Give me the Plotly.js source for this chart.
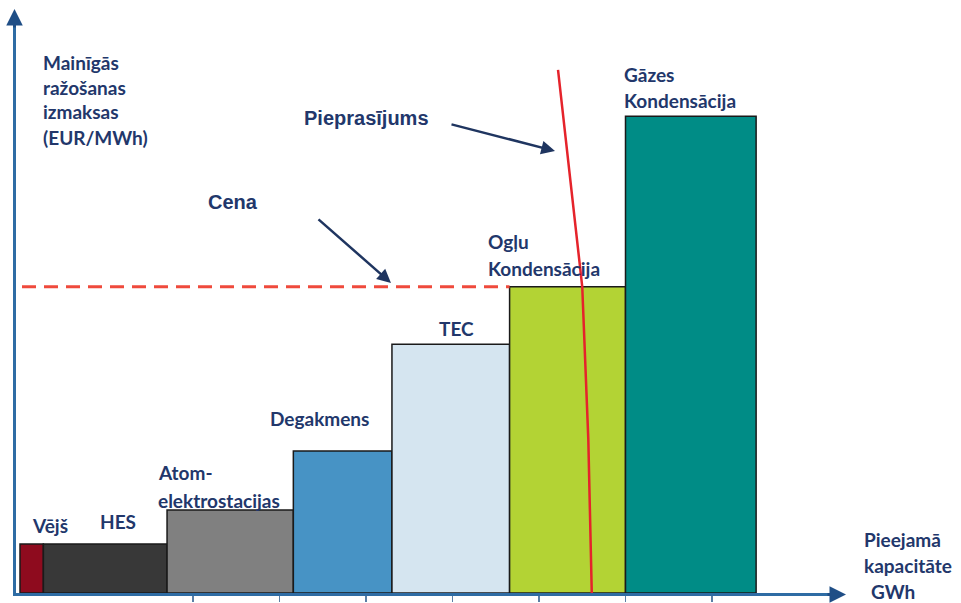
<!DOCTYPE html>
<html>
<head>
<meta charset="utf-8">
<script src="https://cdn.plot.ly/plotly-3.0.1.min.js"></script>
<style>html,body{margin:0;padding:0;background:#fff;}#chart{width:961px;height:603px;}</style>
</head>
<body>
<div id="chart"></div>
<script>
// ---- data ----
const categories = ['Vējš', 'HES', 'Atom-elektrostacijas', 'Degakmens', 'TEC', 'Ogļu Kondensācija', 'Gāzes Kondensācija'];
const capacity = [0.27, 1.43, 1.46, 1.14, 1.36, 1.34, 1.51];      // GWh (bar widths)
const cost = [8.45, 8.45, 14.3, 24.5, 42.9, 52.8, 82.2];           // EUR/MWh (bar heights)
const price = 52.8;                                                 // Cena
const demandCap = [6.22, 6.36, 6.50, 6.57, 6.61];                   // Pieprasījums curve
const demandCost = [90.2, 71.5, 52.8, 26.5, 0];
const tickCaps = [2, 3, 4, 5, 6, 7, 8];
const labelLines = [['Vējš'], ['HES'], ['Atom-', 'elektrostacijas'], ['Degakmens'], ['TEC'], ['Ogļu', 'Kondensācija'], ['Gāzes', 'Kondensācija']];
const yTitleLines = ['Mainīgās', 'ražošanas', 'izmaksas', '(EUR/MWh)'];
const xTitleLines = ['Pieejamā', 'kapacitāte', 'GWh'];
const demandLabel = 'Pieprasījums';
const priceLabel = 'Cena';

// ---- styles ----
const barColors = ['#8E0B1E', '#383838', '#808080', '#4793C5', '#D5E5F0', '#B3D334', '#008C86'];
const navy = '#22376B';
const axisBlue = '#2E6CA4';
const labelFont = {family: 'Lato, "DejaVu Sans", sans-serif', size: 19, color: navy};
const arialFont = {family: '"Liberation Sans", Arial, sans-serif', size: 20, color: navy};

// pixel helpers for placing text (plot area: x 16..843, y 13..593)
const X0 = 20, XS = 86.5, Y0 = 593, YS = 5.8;
const pxX = p => (p - X0) / XS;
const pxY = p => (Y0 - p) / YS;
const ppX = p => (p - 16) / 827;
const ppY = p => (593 - p) / 580;

// bar left edges from cumulative capacity
const lefts = [];
capacity.reduce((acc, w) => { lefts.push(acc); return acc + w; }, 0);

const traces = [
  {
    type: 'bar', x: lefts, y: cost, width: capacity, offset: 0, base: 0,
    text: categories, hoverinfo: 'text', textposition: 'none',
    marker: {color: barColors, line: {color: '#1A1A1A', width: 1.5}}
  },
  {
    type: 'scatter', mode: 'lines', x: [pxX(22), lefts[5]], y: [price, price],
    line: {color: '#EF4A3C', width: 3, dash: '14px,8px'}, hoverinfo: 'skip'
  },
  {
    type: 'scatter', mode: 'lines', x: demandCap, y: demandCost,
    line: {color: '#E5232B', width: 2.5}, hoverinfo: 'skip'
  }
];

// label placements (left px, center y px per line)
const labelPos = [
  [[30, 525]], [[98, 521]], [[156, 472], [156, 500]], [[268, 418]], [[437, 328]],
  [[486, 241], [486, 268]], [[622, 74], [622, 101]]
];
const annotations = [];
const addText = (px, py, t, font) => annotations.push({x: ppX(px), y: ppY(py), xref: 'paper', yref: 'paper',
  text: '<b>' + t + '</b>', showarrow: false, xanchor: 'left', yanchor: 'middle', font: font});
labelLines.forEach((lines, i) => lines.forEach((t, j) => addText(labelPos[i][j][0], labelPos[i][j][1], t, labelFont)));
const yTitleY = [63, 88, 112, 137];
yTitleLines.forEach((t, j) => addText(41, yTitleY[j], t, labelFont));
const xTitlePos = [[862, 539], [862, 565], [869, 591]];
xTitleLines.forEach((t, j) => addText(xTitlePos[j][0], xTitlePos[j][1], t, labelFont));
addText(302, 118, demandLabel, arialFont);
addText(206, 202, priceLabel, arialFont);

// arrows: tip (px) and tail offset (px)
const addArrow = (tx, ty, dx, dy, w, col) => annotations.push({x: ppX(tx), y: ppY(ty), xref: 'paper', yref: 'paper',
  ax: dx, ay: dy, text: '', showarrow: true, arrowhead: 2, arrowsize: 1.1, arrowwidth: w, arrowcolor: col});
addArrow(555, 151, 450 - 555, 124 - 151, 2.5, '#1F3560');
addArrow(391, 283, 317 - 391, 218 - 283, 2.5, '#1F3560');
// axis arrowheads
addArrow(846, 594.5, -20, 0, 3, '#1F4E86');
addArrow(14.5, 9, 0, 20, 3, '#1F4E86');

const layout = {
  width: 961, height: 603,
  margin: {l: 16, r: 118, t: 13, b: 10, pad: 0},
  paper_bgcolor: '#ffffff', plot_bgcolor: '#ffffff',
  showlegend: false,
  barmode: 'overlay',
  xaxis: {range: [pxX(16), pxX(843)], showgrid: false, zeroline: false, showticklabels: false,
    tickmode: 'array', tickvals: tickCaps, ticks: 'outside', ticklen: 6, tickwidth: 1.5, tickcolor: '#5A7FA6',
    showline: true, linecolor: axisBlue, linewidth: 3},
  yaxis: {range: [0, pxY(13)], showgrid: false, zeroline: false, showticklabels: false, ticks: '',
    showline: true, linecolor: axisBlue, linewidth: 3},
  annotations: annotations
};

Plotly.newPlot('chart', traces, layout, {displayModeBar: false, staticPlot: true});
</script>
</body>
</html>
